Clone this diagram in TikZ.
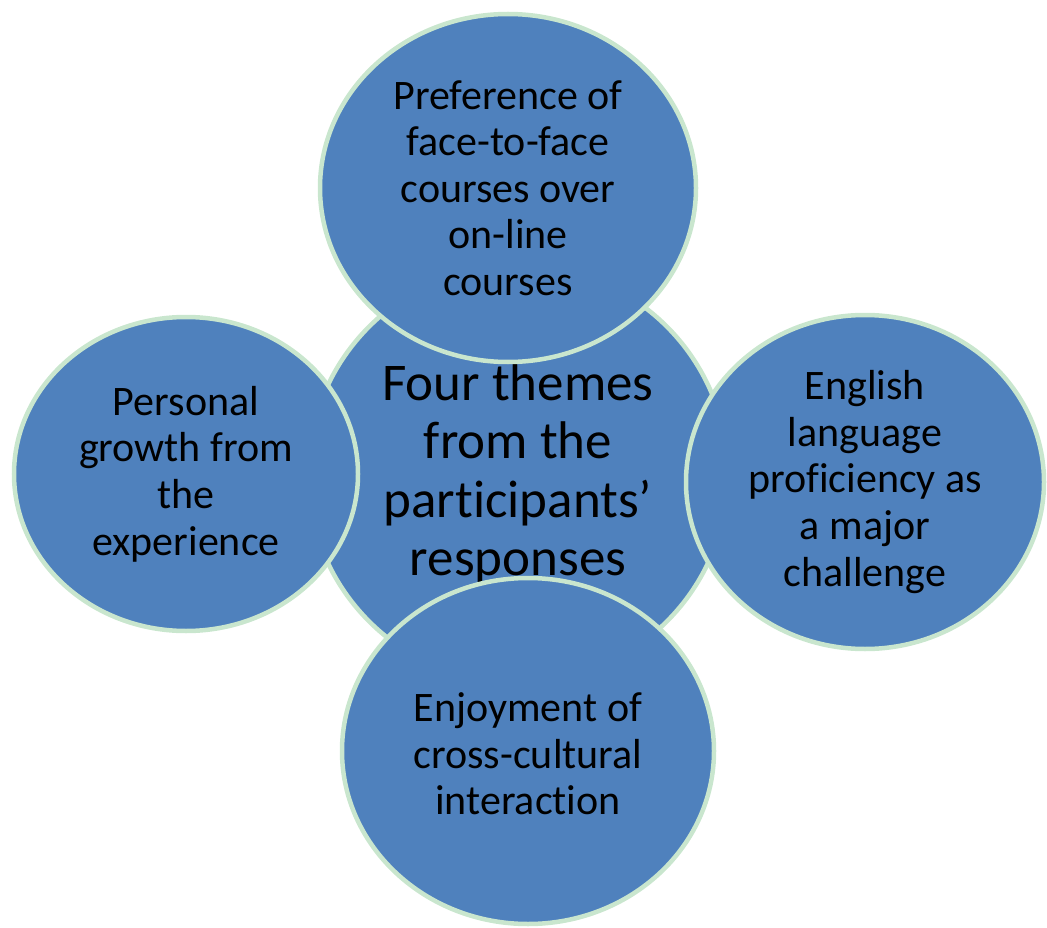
\documentclass[tikz,border=0pt]{standalone}
\usepackage{fontspec}
\setmainfont{Carlito}[Ligatures=NoCommon]
\usetikzlibrary{shapes.geometric}
\definecolor{themefill}{HTML}{4F81BD}
\definecolor{themeline}{HTML}{C9E6CE}
\begin{document}
\begin{tikzpicture}[x=1pt,y=-1pt,
  theme/.style={ellipse, fill=themefill, draw=themeline, line width=4.5pt,
    inner sep=0pt, align=center, text=black,
    font=\fontsize{42}{46.6}\selectfont},
  hub/.style={theme, font=\fontsize{53}{58.3}\selectfont},
  caption/.style={align=center, text=black, inner sep=0pt,
    font=\fontsize{42}{46.6}\selectfont}]
\useasboundingbox (0,0) rectangle (1047,928);
% central theme circle
\node[hub, minimum width=420pt, minimum height=418pt] (hub) at (518,474)
  {Four themes\\from the\\participants’\\responses};
% four surrounding themes
\node[theme, minimum width=344pt, minimum height=314pt] (left) at (186,474)
  {Personal\\growth from\\the\\experience};
\node[theme, minimum width=358pt, minimum height=334pt] (right) at (865,482)
  {English\\language\\proficiency as\\a major\\challenge};
\node[theme, minimum width=376pt, minimum height=348pt] (top) at (508,188)
  {Preference of\\face-to-face\\courses over\\on-line\\courses};
\node[theme, minimum width=372pt, minimum height=346pt] (bottom) at (528,751) {};
\node[caption] (bottomtext) at (528,754)
  {Enjoyment of\\cross-cultural\\interaction};
\end{tikzpicture}
\end{document}
